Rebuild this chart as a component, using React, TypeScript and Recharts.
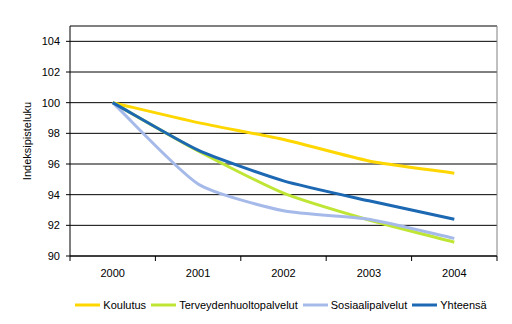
import { LineChart, Line, XAxis, YAxis, CartesianGrid, Legend, ReferenceLine } from 'recharts'

const years = ['2000', '2001', '2002', '2003', '2004']
const koulutus = [100, 98.7, 97.6, 96.2, 95.4]
const terveys = [100, 96.85, 94.1, 92.35, 90.9]
const sosiaali = [100, 94.7, 92.95, 92.4, 91.15]
const yhteensa = [100, 96.9, 94.9, 93.6, 92.4]
const yTicks = [90, 92, 94, 96, 98, 100, 102, 104]

const series = [
  { key: 'koulutus', name: 'Koulutus', color: '#FFD700', values: koulutus },
  { key: 'terveys', name: 'Terveydenhuoltopalvelut', color: '#BFE635', values: terveys },
  { key: 'sosiaali', name: 'Sosiaalipalvelut', color: '#A6BAE9', values: sosiaali },
  { key: 'yhteensa', name: 'Yhteensä', color: '#1C68B2', values: yhteensa },
]

const data = years.map((y, i) => {
  const row: Record<string, number | string> = { i, year: y }
  series.forEach((s) => { row[s.key] = s.values[i] })
  return row
})

const font = '"Liberation Sans", Arial, sans-serif'

// smoothed line roughly like Excel's: tangent along neighbours, length tied to the segment
function smoothCurve(context: any) {
  let xs: number[] = []
  let ys: number[] = []
  const k = 0.2
  const dir = (i: number) => {
    const n = xs.length
    const a = Math.max(i - 1, 0)
    const b = Math.min(i + 1, n - 1)
    const dx = xs[b] - xs[a]
    const dy = ys[b] - ys[a]
    const l = Math.hypot(dx, dy) || 1
    return [dx / l, dy / l]
  }
  return {
    areaStart() {},
    areaEnd() {},
    lineStart() { xs = []; ys = [] },
    point(x: number, y: number) { xs.push(+x); ys.push(+y) },
    lineEnd() {
      const n = xs.length
      if (!n) return
      context.moveTo(xs[0], ys[0])
      for (let i = 0; i < n - 1; i++) {
        const len = Math.hypot(xs[i + 1] - xs[i], ys[i + 1] - ys[i])
        const d0 = dir(i)
        const d1 = dir(i + 1)
        context.bezierCurveTo(
          xs[i] + d0[0] * len * k, ys[i] + d0[1] * len * k,
          xs[i + 1] - d1[0] * len * k, ys[i + 1] - d1[1] * len * k,
          xs[i + 1], ys[i + 1],
        )
      }
    },
  }
}

function LegendBox() {
  return (
    <div style={{ display: 'flex', justifyContent: 'center', alignItems: 'center', fontFamily: font, fontSize: 11, color: '#000' }}>
      {series.map((s) => (
        <div key={s.key} style={{ display: 'flex', alignItems: 'center', marginRight: 5 }}>
          <svg width={25} height={4} style={{ marginRight: 3 }}>
            <line x1={0} y1={2} x2={25} y2={2} stroke={s.color} strokeWidth={3} />
          </svg>
          <span>{s.name}</span>
        </div>
      ))}
    </div>
  )
}

export default function App() {
  return (
    <div style={{ position: 'absolute', left: 0, top: 0, width: 512, height: 324, background: '#fff' }}>
      <LineChart width={512} height={324} data={data} margin={{ top: 26, right: 15, bottom: 22, left: 0 }}>
        <CartesianGrid vertical={false} stroke="#000" strokeWidth={1} />
        <XAxis
          xAxisId="edge"
          type="number"
          dataKey="i"
          domain={[-0.5, 4.5]}
          ticks={[-0.5, 0.5, 1.5, 2.5, 3.5, 4.5]}
          tickFormatter={() => ''}
          stroke="#000"
          tickSize={5}
          height={1}
        />
        <XAxis
          xAxisId="lbl"
          type="number"
          dataKey="i"
          domain={[-0.5, 4.5]}
          ticks={[0, 1, 2, 3, 4]}
          tickFormatter={(v) => years[v]}
          axisLine={false}
          tickLine={false}
          tickSize={6}
          tickMargin={6}
          height={30}
          tick={{ fill: '#000', fontSize: 11, fontFamily: font }}
        />
        <YAxis
          type="number"
          domain={[90, 105]}
          ticks={yTicks}
          width={70}
          stroke="#000"
          tickSize={4}
          tickMargin={6}
          tick={{ fill: '#000', fontSize: 11, fontFamily: font }}
          label={{ value: 'Indeksipisteluku', angle: -90, position: 'insideLeft', offset: 27, style: { textAnchor: 'middle', fontSize: 11, fontFamily: font, fill: '#000' } }}
        />
        <ReferenceLine xAxisId="lbl" y={105} stroke="#808080" />
        <ReferenceLine xAxisId="lbl" x={4.5} stroke="#808080" />
        {series.map((s) => (
          <Line
            key={s.key}
            xAxisId="lbl"
            type={smoothCurve as any}
            dataKey={s.key}
            name={s.name}
            stroke={s.color}
            strokeWidth={3}
            dot={false}
            isAnimationActive={false}
          />
        ))}
        <Legend verticalAlign="bottom" content={<LegendBox />} wrapperStyle={{ left: 70, width: 427, top: 299, height: 15 }} />
      </LineChart>
    </div>
  )
}
